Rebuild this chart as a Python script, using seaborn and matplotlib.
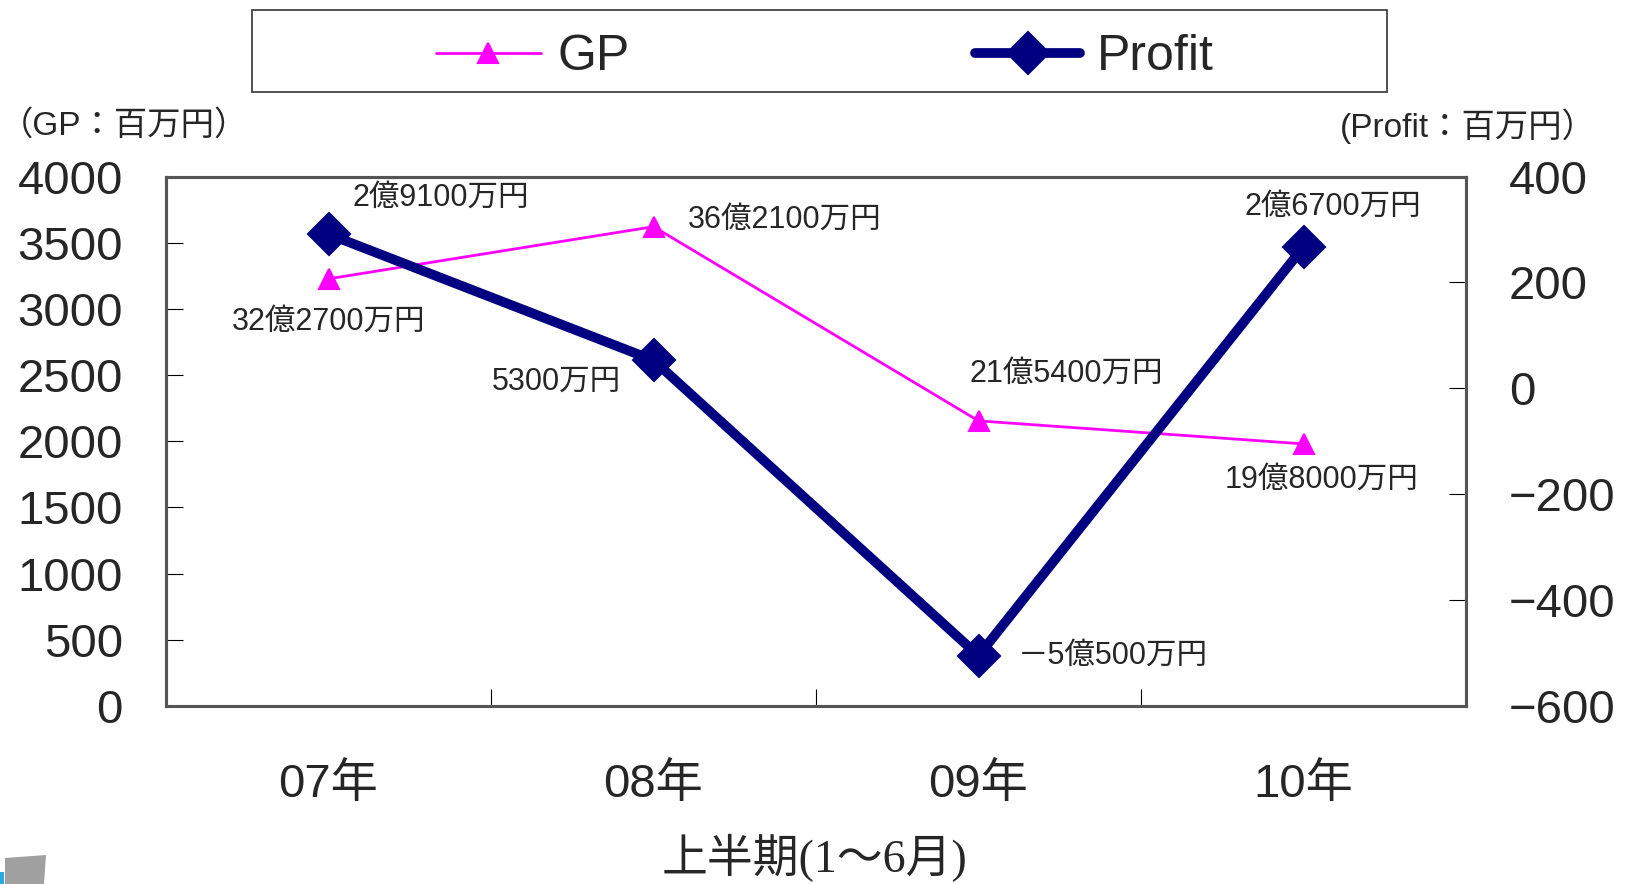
import numpy as np
import pandas as pd
import matplotlib
matplotlib.use("Agg")
import matplotlib.pyplot as plt
from matplotlib.patches import Rectangle, Polygon
import seaborn as sns

# 上半期(1～6月) results, in 百万円
years = ["07年", "08年", "09年", "10年"]
gp = [3227, 3621, 2154, 1980]
profit = [291, 53, -505, 267]
gp_ticks = list(range(0, 4001, 500))
profit_ticks = list(range(-600, 401, 200))

# label offsets (pixels) from each point
gp_label_offsets = [(0, -43), (131, 7), (88, 47), (18, -36)]
profit_label_offsets = [(112, 36), (-97, -21), (134, 0), (29, 40)]


def yen_label(v):
    """百万円 -> 'xx億yyyy万円' text."""
    sign = "－" if v < 0 else ""
    oku, man = divmod(abs(v), 100)
    s = f"{oku}億" if oku else ""
    if man:
        s += f"{man * 100}万"
    return sign + s + "円"


sns.set_style("white")
plt.rcParams["font.family"] = ["Liberation Sans", "Noto Sans CJK JP", "DejaVu Sans"]

W, H = 1628, 884
fig = plt.figure(figsize=(W / 100, H / 100), dpi=100)
ax = fig.add_axes([166 / W, 1 - 706 / H, 1300 / W, 529.5 / H])
ax2 = ax.twinx()

x = np.arange(len(years))
df = pd.DataFrame({"year": x, "GP": gp, "Profit": profit})

sns.lineplot(data=df, x="year", y="GP", ax=ax, color="#FF00FF", linewidth=2.0,
             marker="^", markersize=15, markeredgecolor="#FF00FF",
             markeredgewidth=1.5, label="GP", legend=False)
sns.lineplot(data=df, x="year", y="Profit", ax=ax2, color="#000080", linewidth=7,
             marker="D", markersize=21, markeredgecolor="#000080",
             markeredgewidth=1.5, solid_capstyle="round", label="Profit", legend=False)

for a in (ax, ax2):
    a.set_xlabel("")
    a.set_ylabel("")
    for sp in a.spines.values():
        sp.set_color("#555555")
        sp.set_linewidth(2.2)

ax.set_xlim(-0.5, len(years) - 0.5)
ax.set_xticks(x)
ax.set_xticklabels(years)
ax.set_xticks(np.arange(-0.5, len(years), 1.0), minor=True)
ax.tick_params(axis="x", which="major", bottom=True, length=0, pad=41, labelsize=34)
ax.tick_params(axis="x", which="minor", bottom=True, direction="in", length=12,
               width=0.8, color="black")

ax.set_ylim(0, 4000)
ax.set_yticks(gp_ticks)
ax.tick_params(axis="y", left=True, direction="in", length=12, width=0.8,
               color="black", pad=31, labelsize=34)

ax2.set_ylim(-600, 400)
ax2.set_yticks(profit_ticks)
ax2.tick_params(axis="y", right=True, direction="in", length=12, width=0.8,
                color="black", pad=31, labelsize=34)

for i, (v, off) in enumerate(zip(gp, gp_label_offsets)):
    ax.annotate(yen_label(v), (x[i], v), xytext=off, textcoords="offset pixels",
                ha="center", va="center", fontsize=22)
for i, (v, off) in enumerate(zip(profit, profit_label_offsets)):
    ax2.annotate(yen_label(v), (x[i], v), xytext=off, textcoords="offset pixels",
                 ha="center", va="center", fontsize=22)

# unit captions and category caption
fig.text(0, 1 - 126 / H, "（GP：百万円）", ha="left", va="center", fontsize=24)
fig.text(1596 / W, 1 - 126 / H, "(Profit：百万円）", ha="right", va="center", fontsize=24)
fig.text(815 / W, 1 - 858 / H, "上半期(1～6月)", ha="center", va="center", fontsize=33,
         family=["Liberation Serif", "Noto Sans CJK JP"])

# legend with a boxed frame across the top
h1, l1 = ax.get_legend_handles_labels()
h2, l2 = ax2.get_legend_handles_labels()
fig.legend(h1 + h2, l1 + l2, loc="center", bbox_to_anchor=(825 / W, 1 - 57 / H),
           ncol=2, frameon=False, fontsize=36, handlelength=2.1,
           handletextpad=0.34, columnspacing=6.9, borderaxespad=0)
fig.add_artist(Rectangle((252 / W, 1 - 92.4 / H), 1135 / W, 82 / H,
                         transform=fig.transFigure, fill=False,
                         edgecolor="#333333", linewidth=1.2))

# small grey tab at the lower-left corner
fig.add_artist(Polygon([(5 / W, 0), (5 / W, 1 - 858 / H), (46 / W, 1 - 855 / H), (44 / W, 0)],
                       closed=True, transform=fig.transFigure,
                       facecolor="#A0A0A0", edgecolor="none"))
fig.add_artist(Polygon([(0, 0), (0, 1 - 872 / H), (4 / W, 1 - 872 / H), (4 / W, 0)],
                       closed=True, transform=fig.transFigure,
                       facecolor="#2AA8E0", edgecolor="none"))

fig.savefig("out.png", dpi=100)
